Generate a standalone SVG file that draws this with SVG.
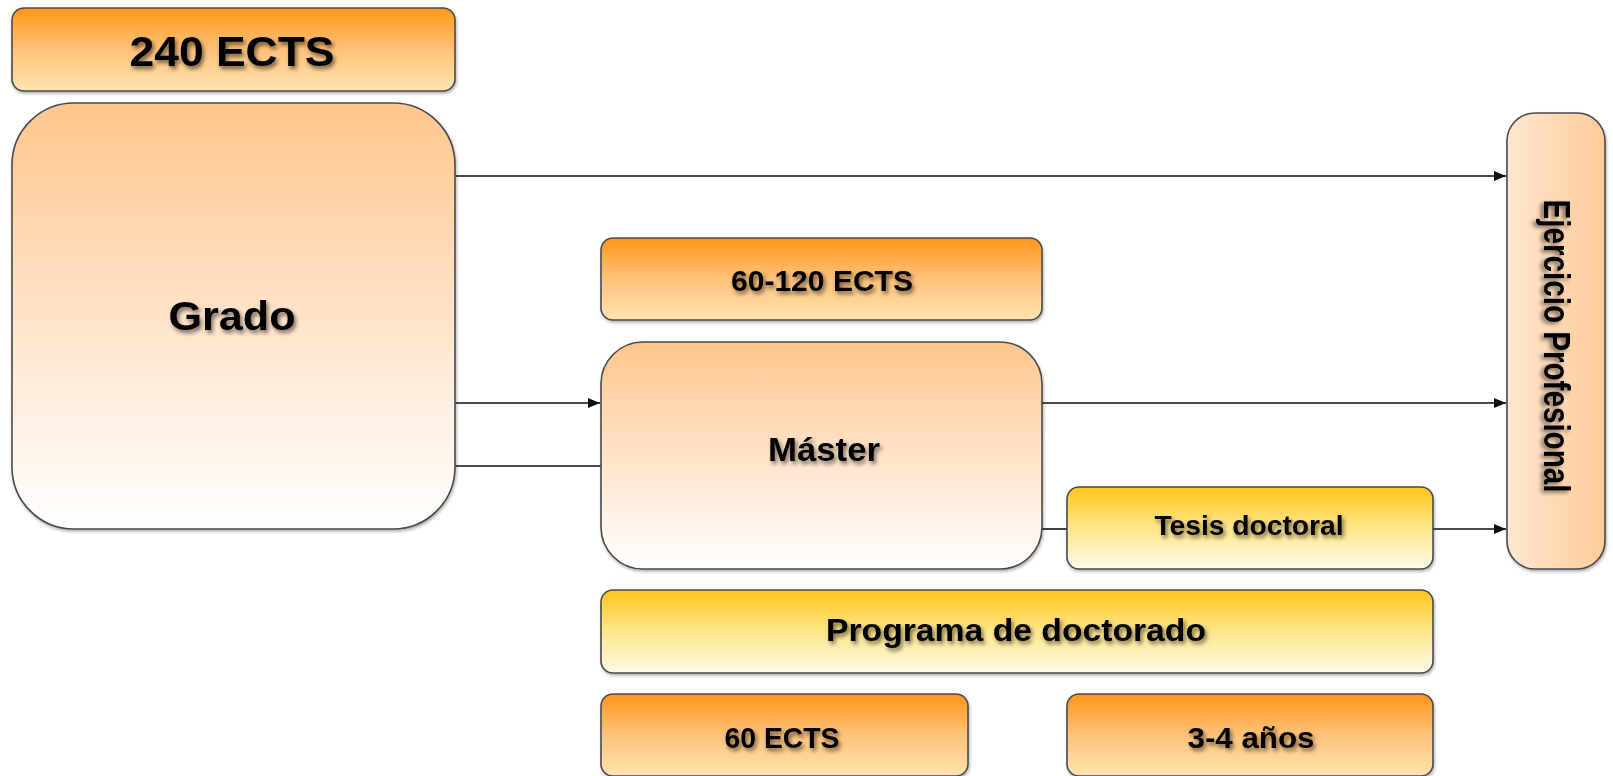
<svg xmlns="http://www.w3.org/2000/svg" width="1613" height="776" viewBox="0 0 1613 776">
<defs>
<linearGradient id="gOr" x1="0" y1="0" x2="0" y2="1">
<stop offset="0" stop-color="#FF9518"/><stop offset="0.5" stop-color="#FFC27A"/><stop offset="1" stop-color="#FFE3B0"/>
</linearGradient>
<linearGradient id="gPe" x1="0" y1="0" x2="0" y2="1">
<stop offset="0" stop-color="#FFC68C"/><stop offset="0.55" stop-color="#FFE6CF"/><stop offset="1" stop-color="#FFFFFF"/>
</linearGradient>
<linearGradient id="gYe" x1="0" y1="0" x2="0" y2="1">
<stop offset="0" stop-color="#FFC61A"/><stop offset="0.5" stop-color="#FFE68A"/><stop offset="1" stop-color="#FFF9E8"/>
</linearGradient>
<linearGradient id="gEj" x1="0" y1="0" x2="1" y2="0">
<stop offset="0" stop-color="#FFE6D2"/><stop offset="1" stop-color="#FFCB98"/>
</linearGradient>
<filter id="ts" x="-10%" y="-30%" width="120%" height="160%">
<feDropShadow dx="2" dy="3" stdDeviation="2.2" flood-color="#000" flood-opacity="0.55"/>
</filter>
<filter id="bs" x="-5%" y="-5%" width="110%" height="110%">
<feDropShadow dx="1" dy="2" stdDeviation="1.5" flood-color="#000" flood-opacity="0.3"/>
</filter>
<marker id="arr" viewBox="0 0 12 10" refX="12" refY="5" markerWidth="12" markerHeight="10" markerUnits="userSpaceOnUse" orient="auto">
<path d="M0,0 L12,5 L0,10 z" fill="#111"/>
</marker>
</defs>
<style>
.box{stroke:#4a4a4a;stroke-width:1.6;filter:url(#bs)}
.t{font-family:"Liberation Sans",Arial,sans-serif;font-weight:bold;fill:#000;text-anchor:middle;filter:url(#ts)}
.c{stroke:#111;stroke-width:1.6;fill:none}
</style>
<rect width="1613" height="776" fill="#fff"/>
<g id="connectors">
<line class="c" x1="455" y1="176" x2="1506" y2="176" marker-end="url(#arr)"/>
<line class="c" x1="455" y1="403" x2="600" y2="403" marker-end="url(#arr)"/>
<line class="c" x1="455" y1="466" x2="601" y2="466"/>
<line class="c" x1="1042" y1="403" x2="1506" y2="403" marker-end="url(#arr)"/>
<line class="c" x1="1042" y1="529" x2="1067" y2="529"/>
<line class="c" x1="1433" y1="529" x2="1506" y2="529" marker-end="url(#arr)"/>
</g>
<g id="ects240">
<rect class="box" x="12" y="8" width="443" height="83" rx="12" fill="url(#gOr)"/>
<text class="t" x="232" y="66" font-size="42" textLength="205" lengthAdjust="spacingAndGlyphs">240 ECTS</text>
</g>
<g id="grado">
<rect class="box" x="12" y="103" width="443" height="426" rx="62" fill="url(#gPe)"/>
<text class="t" x="232" y="330" font-size="40" textLength="127" lengthAdjust="spacingAndGlyphs">Grado</text>
</g>
<g id="ects60120">
<rect class="box" x="601" y="238" width="441" height="82" rx="12" fill="url(#gOr)"/>
<text class="t" x="822" y="291" font-size="29" textLength="182" lengthAdjust="spacingAndGlyphs">60-120 ECTS</text>
</g>
<g id="master">
<rect class="box" x="601" y="342" width="441" height="227" rx="42" fill="url(#gPe)"/>
<text class="t" x="824" y="461" font-size="33" textLength="112" lengthAdjust="spacingAndGlyphs">Máster</text>
</g>
<g id="tesis">
<rect class="box" x="1067" y="487" width="366" height="82" rx="12" fill="url(#gYe)"/>
<text class="t" x="1249" y="535" font-size="28" textLength="189" lengthAdjust="spacingAndGlyphs">Tesis doctoral</text>
</g>
<g id="programa">
<rect class="box" x="601" y="590" width="832" height="83" rx="12" fill="url(#gYe)"/>
<text class="t" x="1016" y="641" font-size="32" textLength="380" lengthAdjust="spacingAndGlyphs">Programa de doctorado</text>
</g>
<g id="ects60">
<rect class="box" x="601" y="694" width="367" height="82" rx="12" fill="url(#gOr)"/>
<text class="t" x="782" y="748" font-size="30" textLength="115" lengthAdjust="spacingAndGlyphs">60 ECTS</text>
</g>
<g id="anos">
<rect class="box" x="1067" y="694" width="366" height="82" rx="12" fill="url(#gOr)"/>
<text class="t" x="1251" y="748" font-size="30" textLength="127" lengthAdjust="spacingAndGlyphs">3-4 años</text>
</g>
<g id="ejercicio">
<rect class="box" x="1507" y="113" width="98" height="456" rx="28" fill="url(#gEj)"/>
<text class="t" transform="translate(1544,346) rotate(90)" x="0" y="0" font-size="36" textLength="293" lengthAdjust="spacingAndGlyphs">Ejercicio Profesional</text>
</g>
</svg>
